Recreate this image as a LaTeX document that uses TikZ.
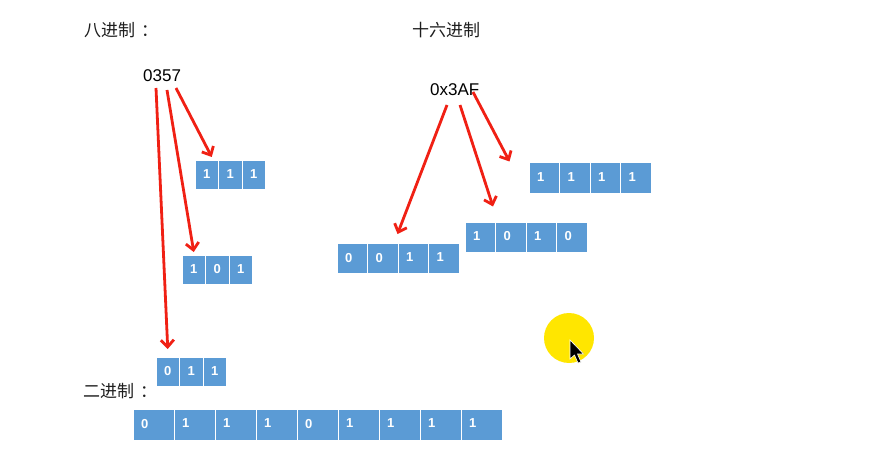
\documentclass[tikz,border=0pt]{standalone}
\usepackage{fontspec}
\setmainfont{Liberation Sans}
\newfontfamily\cjk{Noto Sans CJK SC}
\usepackage{xcolor}
\usepackage{tikz}
\usetikzlibrary{arrows.meta}
\definecolor{bitblue}{RGB}{91,155,213}
\definecolor{arrred}{RGB}{240,32,20}
\definecolor{ink}{RGB}{30,30,30}
\definecolor{hilite}{RGB}{255,230,0}
\tikzset{bit/.style={draw=white,line width=1pt,fill=bitblue,text=white,
  font=\fontsize{13}{13}\selectfont\bfseries,inner xsep=8pt,inner ysep=0pt,
  text depth=2pt,align=left},
  octbit/.style={bit,text width=7.5pt,minimum height=29pt},
  hexbit/.style={bit,text width=14.5pt,minimum height=30pt},
  binbit/.style={bit,text width=25pt,minimum height=31pt},
  title/.style={anchor=base west,inner sep=0pt,text=ink,font=\cjk\fontsize{17}{17}\selectfont},
  numlbl/.style={anchor=base west,inner sep=0pt,text=black,font=\fontsize{17}{17}\selectfont},
  redarrow/.style={arrred,line width=2.8pt,-{Straight Barb[length=7pt,width=13pt]}}}

\begin{document}
\begin{tikzpicture}[x=1pt,y=-1pt]
\useasboundingbox[fill=white](0,0)rectangle(896,449);
% titles
\node[title](octt)at(84,37){八进制\hspace{6pt}：};
\node[title](hext)at(412,37){十六进制};
\node[title](bint)at(83,397){二进制\hspace{6pt}：};
\node[numlbl](oct)at(143,82){0357};
\node[numlbl](hex)at(430,96){0x3AF};
% octal groups
\foreach \b[count=\i] in {1,1,1}
  \node[octbit](o7\i)at({206.75+(\i-1)*23.5},175){\b};
\foreach \b[count=\i] in {1,0,1}
  \node[octbit](o5\i)at({193.75+(\i-1)*23.5},270){\b};
\foreach \b[count=\i] in {0,1,1}
  \node[octbit](o3\i)at({167.75+(\i-1)*23.5},372){\b};
% hex groups
\foreach \b[count=\i] in {1,1,1,1}
  \node[hexbit](hF\i)at({544.25+(\i-1)*30.5},178){\b};
\foreach \b[count=\i] in {1,0,1,0}
  \node[hexbit](hA\i)at({480.25+(\i-1)*30.5},237){\b};
\foreach \b[count=\i] in {0,0,1,1}
  \node[hexbit](h3\i)at({352.25+(\i-1)*30.5},258.5){\b};
% binary
\foreach \b[count=\i] in {0,1,1,1,0,1,1,1,1}
  \node[binbit](b\i)at({153.5+(\i-1)*41},424.5){\b};
% arrows
\coordinate(s3)at(156,88);
\coordinate(s5)at(167,90);
\coordinate(s7)at(176,88);
\coordinate(h3s)at(447,105);
\coordinate(hAs)at(460,105);
\coordinate(hFs)at(473,92);
\draw[redarrow](s7)--([xshift=5pt,yshift=3pt]o71.north);
\draw[redarrow](s5)--([yshift=3pt]o51.north);
\draw[redarrow](s3)--([yshift=8pt]o31.north);
\draw[redarrow](h3s)--([yshift=9pt]h33.north west);
\draw[redarrow](hAs)--([xshift=-3pt,yshift=15pt]hA1.north east);
\draw[redarrow](hFs)--([xshift=-19pt,yshift=1pt]hF1.north west);
% pointer
\fill[hilite](569,338)circle(25);
\draw[fill=black,draw=white,line width=0.6pt,shift={(570,340)}]
  (0,0)--(0,19)--(4.5,15)--(8,23)--(11,22)--(7.5,14)--(13.5,14)--cycle;
\end{tikzpicture}
\end{document}
